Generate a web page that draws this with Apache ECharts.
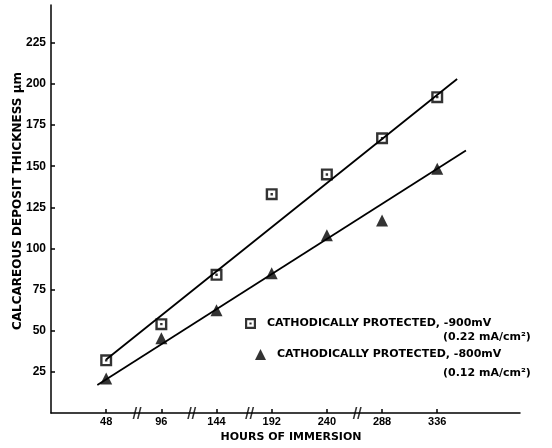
<!DOCTYPE html>
<html><head><meta charset="utf-8">
<script src="https://cdn.jsdelivr.net/npm/echarts@6/dist/echarts.min.js"></script>
<style>html,body{margin:0;padding:0;background:#fff}#c{width:552px;height:448px}</style>
</head><body><div id="c"></div>
<script>
// Data
const hours = ['48', '96', '144', '192', '240', '288', '336'];
const yTicks = [25, 50, 75, 100, 125, 150, 175, 200, 225];
const sq900 = [32, 54, 84, 133, 145, 167, 192];
const tri800 = [21, 45.5, 62.5, 85, 108, 117, 148.5];
const sq900Fit = [[0, 32.5], [6.36, 203]];
const tri800Fit = [[-0.16, 17], [6.52, 159.5]];
const breakAt = [0.56, 1.55, 2.6, 4.55];
const nameSq = 'CATHODICALLY PROTECTED, -900mV';
const nameTri = 'CATHODICALLY PROTECTED, -800mV';
const subSq = '(0.22 mA/cm\u00B2)';
const subTri = '(0.12 mA/cm\u00B2)';
const yName = 'CALCAREOUS DEPOSIT THICKNESS \u03BCm';
const xName = 'HOURS OF IMMERSION';

const FB = '"DejaVu Sans", sans-serif';
const FL = '"Liberation Sans", sans-serif';
const sqPath = 'path://M0,0H10V10H0Z M2,2V8H8V2Z M4,4H6V6H4Z';
const brkPath = 'path://M0,10L3,0L4.6,0L1.6,10Z M4.4,10L7.4,0L9,0L6,10Z';

const chart = echarts.init(document.getElementById('c'), null, {renderer: 'canvas'});
const legendText = {fontFamily: FB, fontWeight: 'bold', fontSize: 11, color: '#000', padding: [0, 0, 0, 6]};
chart.setOption({
  backgroundColor: '#fff',
  animation: false,
  grid: {left: 51, right: 32, top: 5, bottom: 35},
  xAxis: {
    type: 'value', min: -1, max: 7.5,
    axisLine: {onZero: false, lineStyle: {color: '#000', width: 1.5}},
    axisTick: {inside: true, length: 4, lineStyle: {color: '#000', width: 1.5}, customValues: hours.map((h, i) => i)},
    axisLabel: {customValues: hours.map((h, i) => i), formatter: v => hours[Math.round(v)], fontFamily: FL, fontWeight: 'bold', fontSize: 11, color: '#000', margin: 3},
    splitLine: {show: false}
  },
  yAxis: {
    type: 'value', min: 0, max: 248,
    axisLine: {show: true, onZero: false, lineStyle: {color: '#000', width: 1.5}},
    axisTick: {show: true, inside: true, length: 4, lineStyle: {color: '#000', width: 1.5}, customValues: yTicks},
    axisLabel: {customValues: yTicks, fontFamily: FL, fontWeight: 'bold', fontSize: 12, color: '#000', margin: 5},
    splitLine: {show: false}
  },
  legend: [
    {left: 240, top: 313, itemWidth: 11, itemHeight: 11, selectedMode: false, data: [nameSq], textStyle: legendText},
    {left: 250, top: 344, itemWidth: 11, itemHeight: 11, selectedMode: false, data: [nameTri], textStyle: legendText}
  ],
  graphic: [
    {type: 'text', x: 443, y: 337, style: {text: subSq, font: 'bold 11px ' + FB, fill: '#000', verticalAlign: 'middle'}},
    {type: 'text', x: 443, y: 373, style: {text: subTri, font: 'bold 11px ' + FB, fill: '#000', verticalAlign: 'middle'}},
    {type: 'text', x: 18, y: 201, rotation: Math.PI / 2, style: {text: yName, font: 'bold 12px ' + FB, fill: '#000', align: 'center', verticalAlign: 'middle'}},
    {type: 'text', x: 291, y: 437, style: {text: xName, font: 'bold 11px ' + FB, fill: '#000', align: 'center', verticalAlign: 'middle'}}
  ],
  series: [
    {name: 'fitSq', type: 'line', data: sq900Fit, symbol: 'none', lineStyle: {color: '#000', width: 1.8}, silent: true, z: 2},
    {name: 'fitTri', type: 'line', data: tri800Fit, symbol: 'none', lineStyle: {color: '#000', width: 1.8}, silent: true, z: 2},
    {name: nameSq, type: 'scatter', data: sq900.map((v, i) => [i, v]), symbol: sqPath, symbolSize: 12, itemStyle: {color: '#000'}, z: 3},
    {name: nameTri, type: 'scatter', data: tri800.map((v, i) => [i, v]), symbol: 'triangle', symbolSize: 12, itemStyle: {color: '#000'}, z: 3},
    {name: 'breaks', type: 'scatter', data: breakAt.map(x => [x, 0]), symbol: brkPath, symbolSize: [9, 12], itemStyle: {color: '#000'}, z: 4, silent: true}
  ]
});
</script></body></html>
